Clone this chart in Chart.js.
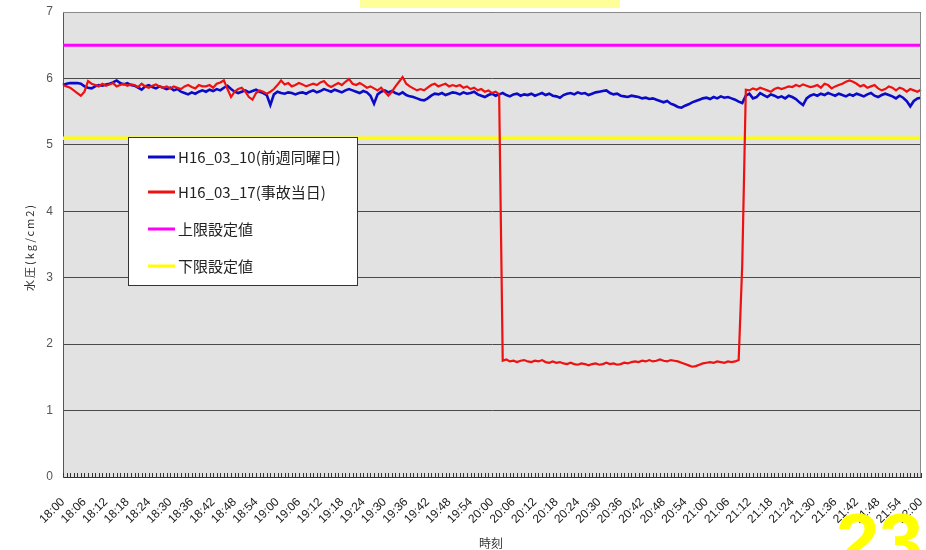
<!DOCTYPE html>
<html><head><meta charset="utf-8">
<script src="https://cdn.jsdelivr.net/npm/chart.js@4/dist/chart.umd.min.js"></script>
<style>html,body{margin:0;padding:0;background:#fff}#wrap{width:926px;height:550px;position:relative}</style>
</head><body><div id="wrap"><canvas id="c" width="926" height="550"></canvas></div>
<script>
// ---- categories: every minute 18:00 - 22:00 ----
const categories = [];
for (let h = 18; h <= 22; h++) {
  for (let m = 0; m < 60; m++) {
    if (h === 22 && m > 0) break;
    categories.push(h + ':' + String(m).padStart(2, '0'));
  }
}
// labels shown on x axis (every 6 minutes)
const tickLabels = ['18:00','18:06','18:12','18:18','18:24','18:30','18:36','18:42','18:48','18:54',
  '19:00','19:06','19:12','19:18','19:24','19:30','19:36','19:42','19:48','19:54',
  '20:00','20:06','20:12','20:18','20:24','20:30','20:36','20:42','20:48','20:54',
  '21:00','21:06','21:12','21:18','21:24','21:30','21:36','21:42','21:48','21:54','22:00'];
const yTicks = [0,1,2,3,4,5,6,7];

const seriesNames = ['H16_03_10(前週同曜日)', 'H16_03_17(事故当日)', '上限設定値', '下限設定値'];

// H16_03_10 (blue)
const prevWeek = [
 5.90,5.92,5.93,5.93,5.93,5.92,5.88,5.86,5.85,5.88,
 5.90,5.89,5.91,5.92,5.94,5.97,5.93,5.91,5.93,5.90,
 5.89,5.86,5.83,5.88,5.90,5.87,5.85,5.88,5.86,5.84,
 5.86,5.82,5.84,5.80,5.78,5.76,5.79,5.77,5.80,5.82,
 5.80,5.83,5.81,5.84,5.82,5.86,5.89,5.84,5.80,5.78,
 5.80,5.82,5.79,5.81,5.83,5.80,5.78,5.75,5.60,5.76,
 5.80,5.78,5.77,5.79,5.78,5.76,5.78,5.79,5.77,5.80,
 5.82,5.79,5.81,5.84,5.82,5.80,5.83,5.81,5.79,5.82,
 5.84,5.82,5.80,5.78,5.81,5.79,5.74,5.62,5.76,5.80,
 5.82,5.79,5.81,5.78,5.76,5.79,5.75,5.73,5.72,5.70,
 5.68,5.67,5.70,5.74,5.77,5.76,5.78,5.75,5.77,5.79,
 5.78,5.76,5.79,5.77,5.78,5.80,5.76,5.74,5.72,5.75,
 5.77,5.74,5.76,5.78,5.75,5.73,5.76,5.77,5.74,5.76,
 5.75,5.77,5.74,5.76,5.78,5.75,5.77,5.74,5.73,5.71,
 5.75,5.77,5.78,5.76,5.79,5.77,5.78,5.75,5.77,5.79,
 5.80,5.81,5.82,5.78,5.76,5.77,5.74,5.73,5.72,5.74,
 5.73,5.72,5.70,5.71,5.69,5.70,5.68,5.66,5.64,5.66,
 5.62,5.60,5.57,5.56,5.59,5.61,5.64,5.66,5.68,5.70,
 5.71,5.69,5.72,5.70,5.73,5.71,5.72,5.70,5.68,5.65,
 5.63,5.74,5.77,5.70,5.72,5.78,5.75,5.72,5.76,5.74,
 5.71,5.73,5.70,5.74,5.72,5.69,5.64,5.60,5.70,5.74,
 5.76,5.74,5.77,5.75,5.78,5.76,5.74,5.77,5.75,5.73,
 5.76,5.74,5.77,5.75,5.73,5.76,5.78,5.74,5.72,5.75,
 5.77,5.75,5.73,5.70,5.74,5.71,5.66,5.58,5.66,5.70,5.71
];
// H16_03_17 (red)
const accidentDay = [
 5.90,5.88,5.86,5.82,5.78,5.74,5.80,5.96,5.92,5.90,
 5.88,5.92,5.89,5.91,5.93,5.88,5.90,5.92,5.89,5.91,
 5.90,5.87,5.92,5.88,5.86,5.89,5.91,5.88,5.86,5.88,
 5.85,5.88,5.86,5.84,5.88,5.90,5.87,5.85,5.90,5.88,
 5.88,5.90,5.86,5.92,5.94,5.97,5.84,5.72,5.80,5.84,
 5.86,5.80,5.72,5.68,5.78,5.82,5.80,5.77,5.80,5.84,
 5.90,5.97,5.91,5.93,5.88,5.90,5.93,5.91,5.88,5.90,
 5.92,5.90,5.94,5.96,5.90,5.87,5.90,5.93,5.90,5.95,
 5.99,5.92,5.90,5.93,5.90,5.86,5.88,5.85,5.82,5.86,
 5.80,5.74,5.80,5.88,5.95,6.02,5.92,5.88,5.85,5.82,
 5.84,5.82,5.86,5.90,5.92,5.88,5.90,5.92,5.88,5.90,
 5.88,5.90,5.86,5.88,5.84,5.86,5.82,5.84,5.80,5.82,
 5.78,5.80,5.76,1.75,1.77,1.74,1.75,1.73,1.75,1.76,
 1.74,1.73,1.75,1.74,1.76,1.73,1.72,1.74,1.72,1.73,
 1.71,1.70,1.72,1.70,1.69,1.71,1.70,1.68,1.70,1.71,
 1.69,1.70,1.72,1.70,1.71,1.69,1.70,1.72,1.71,1.73,
 1.74,1.73,1.75,1.74,1.76,1.74,1.75,1.77,1.75,1.74,
 1.76,1.75,1.74,1.72,1.70,1.68,1.66,1.67,1.69,1.71,
 1.72,1.73,1.72,1.74,1.73,1.72,1.74,1.73,1.74,1.76,
 3.20,5.83,5.82,5.85,5.83,5.86,5.84,5.82,5.80,5.84,
 5.86,5.84,5.86,5.88,5.87,5.90,5.88,5.91,5.89,5.87,
 5.88,5.90,5.86,5.92,5.90,5.85,5.88,5.90,5.92,5.95,
 5.97,5.95,5.92,5.88,5.90,5.86,5.88,5.90,5.85,5.82,
 5.84,5.88,5.86,5.82,5.86,5.84,5.80,5.84,5.82,5.80,5.83
];
const upperLimit = 6.5;
const lowerLimit = 5.1;

const colors = ['#0a0ac8', '#ee1111', '#ff00ff', '#ffff00'];

const decoPlugin = {
  id: 'deco',
  beforeDraw(chart) {
    const {ctx, chartArea: a} = chart;
    ctx.save();
    ctx.fillStyle = '#ffffff';
    ctx.fillRect(0, 0, chart.width, chart.height);
    ctx.fillStyle = '#e2e2e2';
    ctx.fillRect(a.left, a.top, a.right - a.left, a.bottom - a.top);
    // title box (cut off at top)
    ctx.fillStyle = '#ffff99';
    ctx.fillRect(360, 0, 260, 8);
    ctx.restore();
  },
  afterDatasetsDraw(chart) {
    const {ctx, chartArea: a} = chart;
    const xs = chart.scales.x;
    ctx.save();
    ctx.strokeStyle = '#8a8a8a';
    ctx.lineWidth = 1;
    ctx.beginPath();
    ctx.moveTo(a.left, a.top + 0.5); ctx.lineTo(a.right - 0.5, a.top + 0.5); ctx.lineTo(a.right - 0.5, a.bottom);
    ctx.stroke();
    // inward minute ticks
    ctx.strokeStyle = '#333';
    ctx.beginPath();
    for (let i = 0; i < categories.length; i++) {
      const x = Math.round(xs.getPixelForValue(i)) + 0.5;
      ctx.moveTo(x, a.bottom);
      ctx.lineTo(x, a.bottom - 4);
    }
    ctx.stroke();
    ctx.restore();
  },
  afterDraw(chart) {
    const {ctx} = chart;
    ctx.save();
    // legend
    const lx = 128, ly = 137, lw = 229, lh = 148;
    ctx.fillStyle = '#ffffff';
    ctx.fillRect(lx, ly, lw, lh);
    ctx.strokeStyle = '#333';
    ctx.lineWidth = 1;
    ctx.strokeRect(lx + 0.5, ly + 0.5, lw, lh);
    const rows = [157, 192, 229, 266];
    ctx.font = '15px "Noto Sans CJK JP", "Noto Sans", sans-serif';
    ctx.textBaseline = 'middle';
    ctx.textAlign = 'left';
    chart.data.datasets.forEach((ds, i) => {
      ctx.strokeStyle = ds.borderColor;
      ctx.lineWidth = 3;
      ctx.beginPath();
      ctx.moveTo(148, rows[i]);
      ctx.lineTo(175, rows[i]);
      ctx.stroke();
      ctx.fillStyle = '#222';
      ctx.fillText(ds.label, 178, rows[i]);
    });
    // y title
    ctx.save();
    ctx.translate(30, 247);
    ctx.rotate(-Math.PI / 2);
    ctx.font = '11px "Noto Sans CJK JP", sans-serif';
    ctx.letterSpacing = '2px';
    ctx.fillStyle = '#333';
    ctx.textAlign = 'center';
    ctx.fillText('水圧(kg/cm2)', 0, 0);
    ctx.restore();
    // x title
    ctx.font = '12px "Noto Sans CJK JP", sans-serif';
    ctx.fillStyle = '#333';
    ctx.textAlign = 'center';
    ctx.fillText('時刻', 491, 543);
    // page number
    ctx.font = 'bold 78px "Liberation Sans", Arial, sans-serif';
    ctx.fillStyle = '#ffff00';
    ctx.textAlign = 'left';
    ctx.textBaseline = 'alphabetic';
    ctx.fillText('23', 836, 568);
    ctx.restore();
  }
};

const ctx = document.getElementById('c').getContext('2d');
new Chart(ctx, {
  type: 'line',
  data: {
    labels: categories,
    datasets: [
      {label: seriesNames[0], data: prevWeek, borderColor: colors[0], borderWidth: 2.6, order: 2},
      {label: seriesNames[1], data: accidentDay, borderColor: colors[1], borderWidth: 2.2, order: 1},
      {label: seriesNames[2], data: categories.map(() => upperLimit), borderColor: colors[2], borderWidth: 3, order: 3},
      {label: seriesNames[3], data: categories.map(() => lowerLimit), borderColor: colors[3], borderWidth: 3.5, order: 4}
    ]
  },
  options: {
    responsive: false,
    animation: false,
    devicePixelRatio: 1,
    layout: {padding: {left: 0, right: 5, top: 12, bottom: 0}},
    elements: {point: {radius: 0}, line: {tension: 0, fill: false}},
    plugins: {legend: {display: false}, tooltip: {enabled: false}, title: {display: false}},
    scales: {
      x: {
        type: 'category',
        grid: {display: false, drawTicks: false},
        border: {display: true, color: '#333', width: 1},
        afterFit(s) { s.height = 73; s.paddingLeft = 0; s.paddingRight = 0; },
        ticks: {
          autoSkip: false,
          minRotation: 45,
          maxRotation: 45,
          padding: 18,
          color: '#1a1a1a',
          font: {size: 12, family: '"Liberation Sans Narrow", "Liberation Sans", Arial, sans-serif'},
          callback(v, i) { const l = categories[i]; return tickLabels.includes(l) ? l : null; }
        }
      },
      y: {
        min: 0, max: 7,
        afterFit(s) { s.width = 63; s.paddingTop = 0; s.paddingBottom = 0; },
        afterBuildTicks(s) { s.ticks = yTicks.map(v => ({value: v})); },
        grid: {color: '#4a4a4a', lineWidth: 1, drawTicks: false},
        border: {display: true, color: '#555', width: 1},
        ticks: {padding: 10, color: '#555', font: {size: 12, family: '"Liberation Sans", Arial, sans-serif'}}
      }
    }
  },
  plugins: [decoPlugin]
});
</script></body></html>
